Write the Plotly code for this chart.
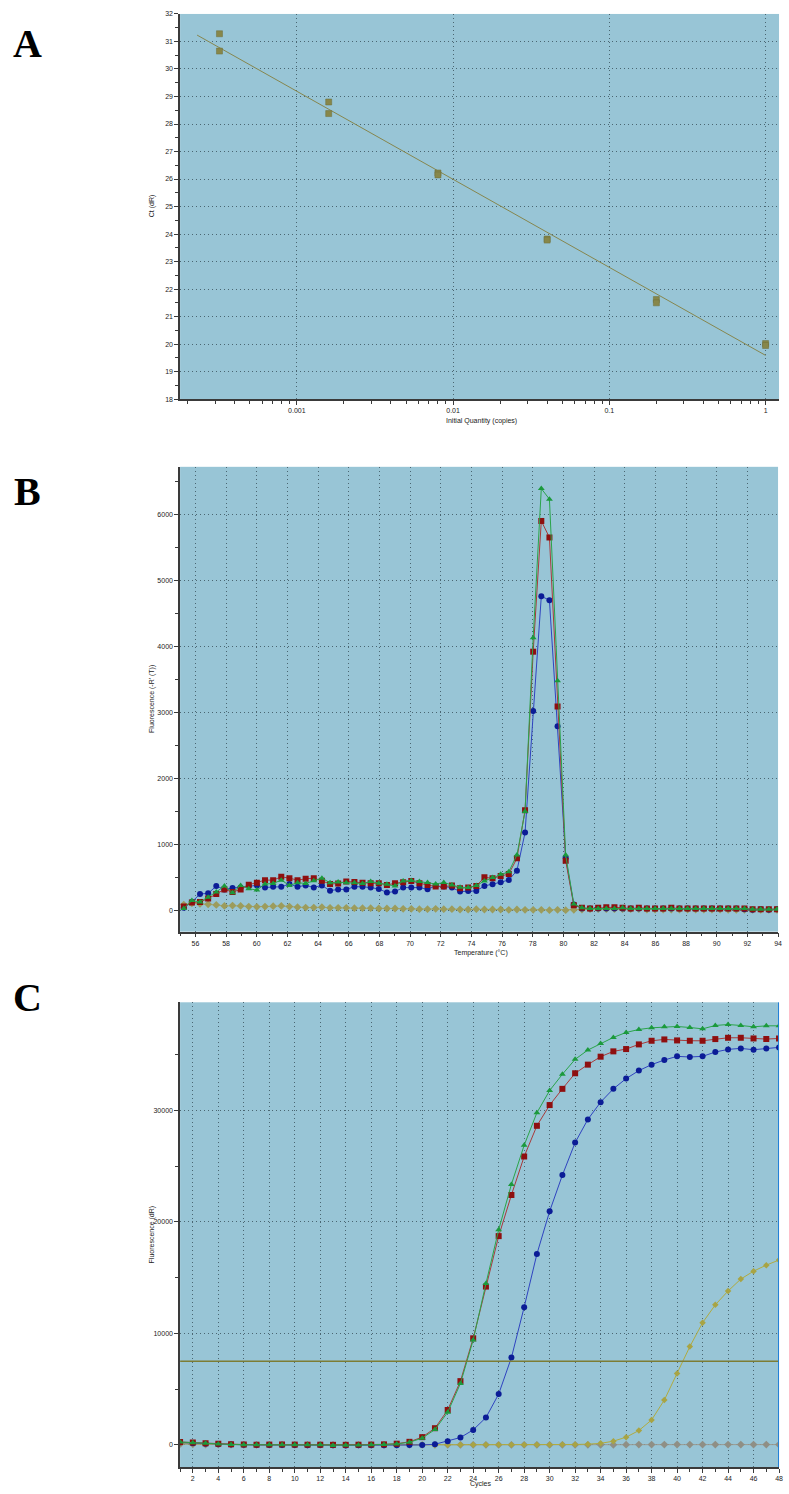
import math
import plotly.graph_objects as go

# ---------------- Panel A: standard curve ----------------
a_quantity = [0.00032, 0.00032, 0.0016, 0.0016, 0.008, 0.008, 0.04, 0.04, 0.2, 0.2, 1.0, 1.0]
a_ct = [31.28, 30.65, 28.80, 28.38, 26.22, 26.15, 23.82, 23.78, 21.62, 21.50, 20.02, 19.95]
a_fit_intercept = 19.59
a_fit_slope = -3.20
a_fit_x = [0.00023, 1.0]

# ---------------- Panel B: melt curves ----------------
b_temp = [55.24, 55.77, 56.30, 56.83, 57.36, 57.89, 58.42, 58.95, 59.48, 60.01,
          60.54, 61.07, 61.60, 62.13, 62.66, 63.19, 63.72, 64.25, 64.78, 65.31,
          65.84, 66.37, 66.90, 67.43, 67.96, 68.49, 69.02, 69.55, 70.08, 70.61,
          71.14, 71.67, 72.20, 72.73, 73.26, 73.79, 74.32, 74.85, 75.38, 75.91,
          76.44, 76.97, 77.50, 78.03, 78.56, 79.09, 79.62, 80.15, 80.68, 81.21,
          81.74, 82.27, 82.80, 83.33, 83.86, 84.39, 84.92, 85.45, 85.98, 86.51,
          87.04, 87.57, 88.10, 88.63, 89.16, 89.69, 90.22, 90.75, 91.28, 91.81,
          92.34, 92.87, 93.40, 93.93]
b_red = [60, 120, 130, 180, 250, 320, 280, 320, 390, 420,
         460, 460, 510, 490, 460, 480, 490, 450, 400, 410,
         440, 430, 420, 413, 413, 387, 413, 428, 448, 413,
         387, 362, 362, 377, 337, 347, 372, 503, 488, 523,
         553, 790, 1520, 3920, 5900, 5650, 3090, 754, 80, 40,
         30, 40, 50, 50, 40, 30, 40, 30, 30, 30,
         40, 30, 30, 30, 30, 30, 30, 30, 30, 30,
         20, 20, 20, 20]
b_green = [30, 150, 130, 200, 280, 370, 270, 380, 330, 310,
           400, 410, 460, 380, 420, 410, 450, 490, 420, 430,
           420, 420, 410, 438, 413, 397, 372, 448, 453, 438,
           423, 402, 423, 387, 352, 347, 377, 448, 498, 548,
           588, 840, 1500, 4130, 6390, 6230, 3480, 840, 100, 40,
           30, 30, 30, 30, 40, 30, 30, 30, 30, 30,
           30, 30, 30, 30, 30, 30, 30, 30, 30, 30,
           20, 20, 20, 20]
b_blue = [40, 130, 250, 260, 370, 320, 340, 350, 370, 380,
          350, 360, 360, 400, 360, 380, 350, 380, 300, 320,
          320, 360, 360, 347, 327, 272, 287, 347, 347, 347,
          322, 372, 362, 347, 287, 297, 297, 372, 397, 428,
          463, 604, 1180, 3020, 4760, 4700, 2790, 800, 90, 30,
          30, 30, 30, 30, 30, 30, 30, 30, 30, 30,
          30, 30, 30, 30, 30, 30, 30, 30, 30, 20,
          10, 20, 10, 20]
b_ntc = [90, 110, 100, 95, 85, 70, 75, 70, 60, 55,
         60, 65, 70, 60, 50, 45, 45, 50, 40, 40,
         40, 35, 35, 35, 30, 30, 30, 25, 25, 20,
         20, 25, 20, 20, 15, 15, 20, 15, 15, 15,
         10, 15, 10, 10, 10, 5, 10, 5, 10, 15,
         20, 20, 20, 20, 20, 20, 20, 15, 15, 15,
         15, 15, 15, 15, 15, 15, 15, 10, 10, 10,
         10, 10, 10, 10]

# ---------------- Panel C: amplification plots ----------------
c_cycles = list(range(1, 49))
c_green = [250, 180, 130, 80, 30, 10, 0, 0, 10, 0,
           0, 0, -50, -30, -20, 0, 20, 80, 230, 600,
           1369, 2917, 5506, 9400, 14464, 19286, 23363, 26875, 29792, 31786,
           33244, 34583, 35417, 36012, 36548, 36994, 37262, 37411, 37500, 37530,
           37440, 37320, 37620, 37708, 37620, 37500, 37590, 37590]
c_red = [250, 200, 150, 100, 40, 20, 10, 20, 30, 20,
         10, 10, 0, 0, 10, 20, 40, 100, 268, 690,
         1490, 3125, 5714, 9554, 14196, 18723, 22411, 25866, 28620, 30480,
         31935, 33333, 34107, 34821, 35298, 35506, 35923, 36250, 36369, 36280,
         36250, 36250, 36400, 36518, 36518, 36458, 36400, 36458]
c_blue = [200, 150, 100, 60, 20, 0, -10, -20, -10, -20,
          -30, -20, -40, -50, -40, -30, -40, -30, -20, -10,
          50, 327, 655, 1339, 2440, 4554, 7827, 12351, 17113, 20952,
          24196, 27113, 29196, 30744, 31935, 32857, 33571, 34107, 34524, 34851,
          34792, 34851, 35238, 35476, 35565, 35446, 35565, 35655]
c_gold = [100, 80, 50, 30, 0, 0, -10, 0, 0, -10,
          0, 0, -10, 0, 0, -10, 0, 0, 0, 0,
          -10, 0, 0, 0, 0, 0, 0, 0, 0, 10,
          20, 30, 60, 130, 327, 685, 1280, 2232, 4018, 6400,
          8810, 10952, 12560, 13800, 14870, 15580, 16120, 16580]
c_ntc = [60, 40, 30, 20, 10, 0, 0, 0, 10, 0,
         0, 0, 0, 0, 0, 0, 0, 0, 0, 0,
         0, 0, 0, 0, 0, 0, 0, 0, 0, 0,
         0, 0, 0, 0, 0, 10, 20, 20, 20, 30,
         20, 20, 20, 20, 20, 20, 20, 20]
c_threshold = 7500

# ---------------- styling ----------------
W, H = 789, 1494
PLOT_BG = "#98c5d6"
GRID = "#4a6672"
AXIS = "#3a3a3a"
TICKFONT = dict(family="Liberation Sans Narrow, Arial Narrow, Liberation Sans, sans-serif", size=7, color="#222222")
RED_M, RED_L = "#8e0f0f", "#a83a3a"
GRN_M, GRN_L = "#1b9a3c", "#2aa44a"
BLU_M, BLU_L = "#0b1c96", "#2f43c0"
OLV_M = "#9c9c5c"
GOLD_M, GOLD_L = "#a8a444", "#b0ab40"

def px_x(p):
    return p / W

def px_y(p):
    return 1 - p / H

x0, x1 = px_x(181), px_x(783)

fig = go.Figure()

# Panel A
fit_y = [a_fit_intercept + a_fit_slope * math.log10(v) for v in a_fit_x]
fig.add_trace(go.Scatter(x=a_fit_x, y=fit_y, mode="lines", line=dict(color="#86864e", width=1),
                         xaxis="x", yaxis="y", showlegend=False))
fig.add_trace(go.Scatter(x=a_quantity, y=a_ct, mode="markers",
                         marker=dict(symbol="square", size=6, color="#87874a",
                                     line=dict(color="#6e6e38", width=0.5)),
                         xaxis="x", yaxis="y", showlegend=False))

# Panel B
def melt(y, mcol, lcol, sym):
    fig.add_trace(go.Scatter(x=b_temp, y=y, mode="lines+markers",
                             line=dict(color=lcol, width=1),
                             marker=dict(symbol=sym, size=6, color=mcol),
                             xaxis="x2", yaxis="y2", showlegend=False))

melt(b_ntc, OLV_M, "#a4a46c", "diamond")
melt(b_blue, BLU_M, BLU_L, "circle")
melt(b_red, RED_M, RED_L, "square")
melt(b_green, GRN_M, GRN_L, "triangle-up")

# Panel C
def amp(y, mcol, lcol, sym, size=6):
    fig.add_trace(go.Scatter(x=c_cycles, y=y, mode="lines+markers",
                             line=dict(color=lcol, width=1),
                             marker=dict(symbol=sym, size=size, color=mcol),
                             xaxis="x3", yaxis="y3", showlegend=False))

amp(c_ntc, "#8f8f85", "#9a9a90", "diamond")
amp(c_gold, GOLD_M, GOLD_L, "diamond", 5)
amp(c_blue, BLU_M, BLU_L, "circle")
amp(c_red, RED_M, RED_L, "square")
amp(c_green, GRN_M, GRN_L, "triangle-up")
fig.add_trace(go.Scatter(x=[c_cycles[0], c_cycles[-1]], y=[c_threshold, c_threshold], mode="lines",
                         line=dict(color="#7d7d34", width=1.5),
                         xaxis="x3", yaxis="y3", showlegend=False))
fig.add_trace(go.Scatter(x=[c_cycles[-1], c_cycles[-1]], y=[-2000, 39700], mode="lines",
                         line=dict(color="#1f7fd8", width=2),
                         xaxis="x3", yaxis="y3", showlegend=False))

common = dict(showline=True, linecolor=AXIS, linewidth=1.5, ticks="outside", ticklen=4,
              tickcolor=AXIS, tickwidth=1, tickfont=TICKFONT, showgrid=True,
              gridcolor=GRID, griddash="1px,3px", gridwidth=1, zeroline=False, mirror=False)

minor_log = [m * 10 ** e for e in range(-4, 1) for m in range(2, 10)]

fig.update_layout(
    width=W, height=H, margin=dict(l=0, r=0, t=0, b=0),
    paper_bgcolor="white", plot_bgcolor=PLOT_BG,
    xaxis=dict(common, type="log", domain=[x0, x1], anchor="y",
               range=[-3.747, 0.086], tickvals=[0.001, 0.01, 0.1, 1],
               ticktext=["0.001", "0.01", "0.1", "1"],
               minor=dict(tickvals=minor_log, ticks="outside", ticklen=3, tickcolor=AXIS, showgrid=False)),
    yaxis=dict(common, domain=[px_y(397), px_y(10)], anchor="x", range=[18, 32], dtick=1,
               minor=dict(dtick=0.5, ticks="outside", ticklen=3, tickcolor=AXIS, showgrid=False)),
    xaxis2=dict(common, domain=[x0, px_x(782)], anchor="y2", range=[55, 94], dtick=2, tick0=0,
                minor=dict(dtick=1, ticks="outside", ticklen=3, tickcolor=AXIS, showgrid=False)),
    yaxis2=dict(common, domain=[px_y(932), px_y(465)], anchor="x2", range=[-320, 6720], dtick=1000,
                tickformat="d",
                minor=dict(dtick=500, ticks="outside", ticklen=3, tickcolor=AXIS, showgrid=False)),
    xaxis3=dict(common, domain=[x0, x1], anchor="y3", range=[1, 48], dtick=2, tick0=0,
                minor=dict(dtick=1, ticks="outside", ticklen=3, tickcolor=AXIS, showgrid=False)),
    yaxis3=dict(common, domain=[px_y(1470), px_y(1003)], anchor="x3", range=[-2000, 39700], dtick=10000,
                tickformat="d",
                minor=dict(dtick=5000, ticks="outside", ticklen=3, tickcolor=AXIS, showgrid=False)),
)

ann = []
LETTER = dict(family="Liberation Serif, DejaVu Serif, serif", size=40, color="black")
for letter, ypx in [("A", 40), ("B", 490), ("C", 998)]:
    ann.append(dict(text="<b>%s</b>" % letter, x=px_x(28), y=px_y(ypx), xref="paper", yref="paper",
                    showarrow=False, font=LETTER, xanchor="center", yanchor="middle"))
TITLEFONT = dict(family="Liberation Sans Narrow, Arial Narrow, Liberation Sans, sans-serif", size=7, color="#222222")
for text, xpx, ypx, rot in [("Ct (dR)", 153, 203, -90),
                            ("Initial Quantity (copies)", 484, 419, 0),
                            ("Fluorescence (-R' (T))", 153, 698, -90),
                            ("Temperature (°C)", 483, 953, 0),
                            ("Fluorescence (dR)", 153, 1236, -90),
                            ("Cycles", 483, 1487, 0)]:
    ann.append(dict(text=text, x=px_x(xpx), y=px_y(ypx), xref="paper", yref="paper", showarrow=False,
                    font=TITLEFONT, textangle=rot, xanchor="center", yanchor="middle"))
fig.update_layout(annotations=ann)

fig.write_html("out.html", config={"displayModeBar": False},
               post_script="document.body.style.margin='0';document.body.style.overflow='hidden';")
